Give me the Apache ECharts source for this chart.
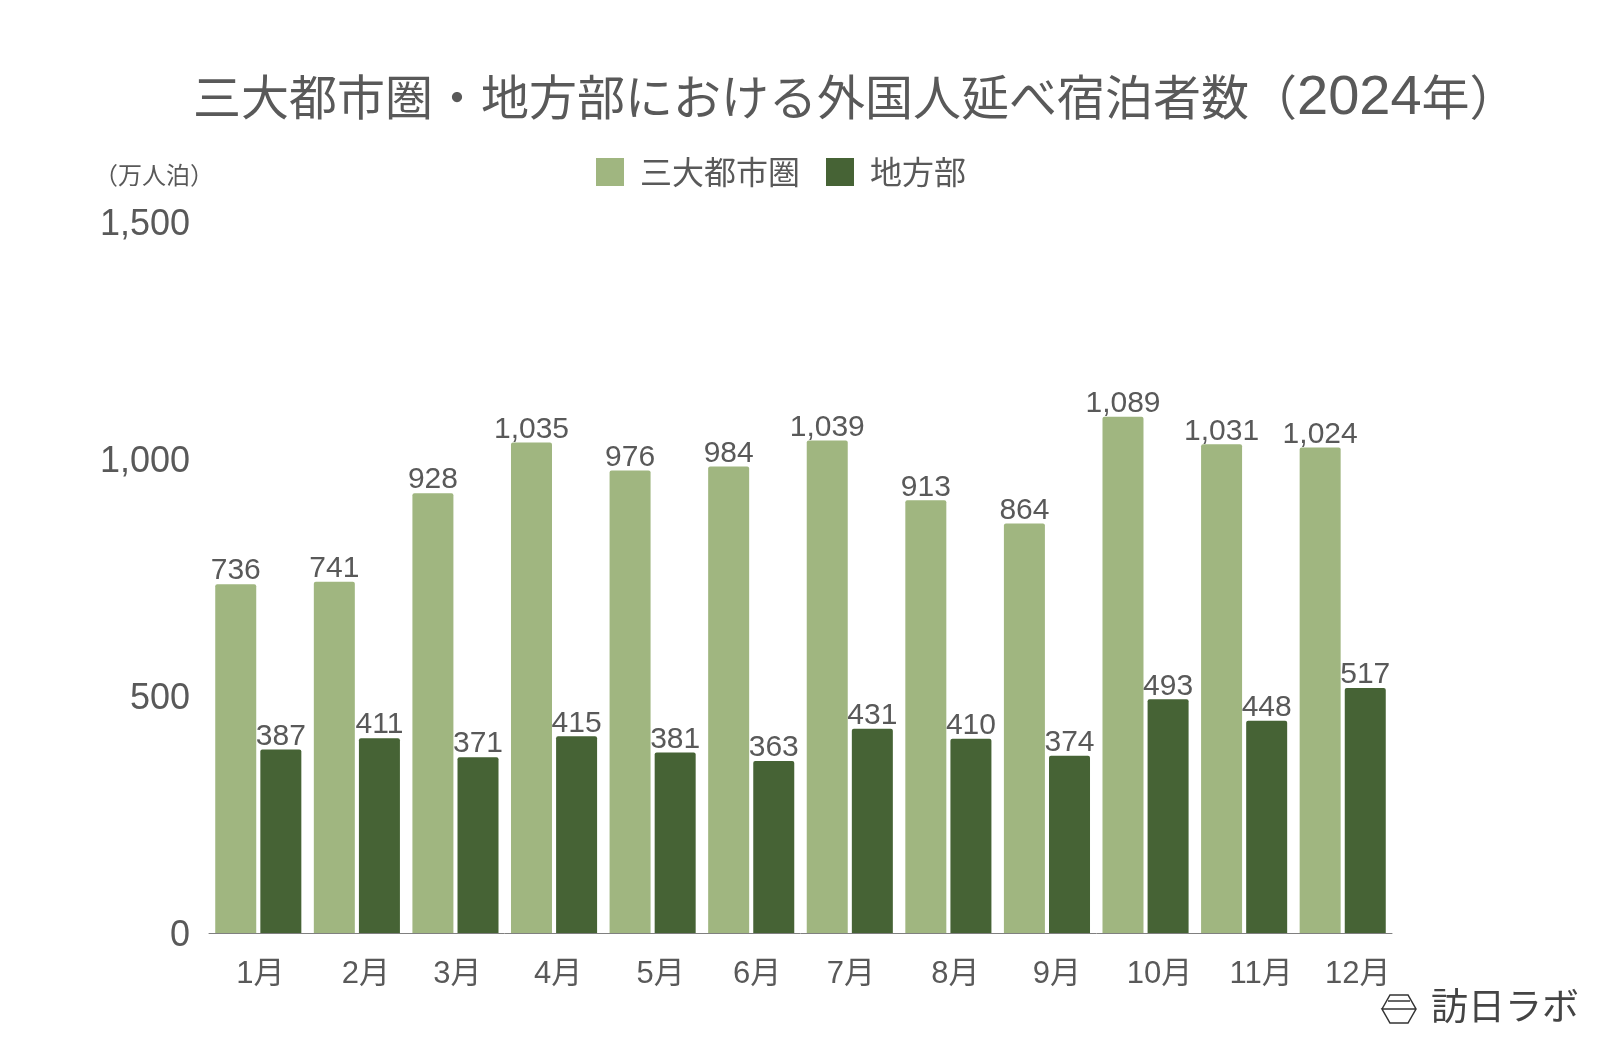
<!DOCTYPE html>
<html>
<head>
<meta charset="utf-8">
<style>
html,body{margin:0;padding:0;background:#fff;}
#chart{width:1600px;height:1048px;}
</style>
<script src="https://cdn.jsdelivr.net/npm/echarts@6/dist/echarts.min.js"></script>
</head>
<body>
<div id="chart"></div>
<script>
var categories=['1月','2月','3月','4月','5月','6月','7月','8月','9月','10月','11月','12月'];
var metroValues=[736,741,928,1035,976,984,1039,913,864,1089,1031,1024];
var regionalValues=[387,411,371,415,381,363,431,410,374,493,448,517];
// x labels in the original do not sit exactly under the bars
var labelShift=[2,9,2,4,8,6,1,7,10,14,17,15];

var fontCjk='"Noto Sans CJK JP"';
var fontNum='"Liberation Sans","Noto Sans CJK JP"';
var textColor='#595959';

var chart=echarts.init(document.getElementById('chart'));

function barSeries(name,values,color){
    return {
        name:name,
        type:'bar',
        data:values,
        barWidth:41,
        barGap:'10%',
        itemStyle:{color:color,borderRadius:[2,2,0,0]},
        label:{
            show:true,
            position:'top',
            distance:-2,
            color:textColor,
            fontFamily:fontNum,
            fontSize:30,
            formatter:function(p){return p.value.toLocaleString('en-US');}
        }
    };
}

var option={
    animation:false,
    backgroundColor:'#fff',
    title:{
        text:'{cjk|三大都市圏・地方部における外国人延べ宿泊者数（}{num|2024}{cjk|年）}',
        left:188,
        top:62,
        textStyle:{
            rich:{
                cjk:{color:textColor,fontFamily:fontCjk,fontSize:48,fontWeight:400},
                num:{color:textColor,fontFamily:fontNum,fontSize:56,fontWeight:400,padding:[4,0,0,0]}
            }
        }
    },
    legend:{
        left:591,
        top:151,
        itemWidth:28,
        itemHeight:28,
        itemGap:26,
        icon:'rect',
        textStyle:{color:textColor,fontFamily:fontCjk,fontSize:32,padding:[0,0,0,11]},
        data:['三大都市圏','地方部']
    },
    grid:{left:209,top:222,width:1183,height:711},
    xAxis:{
        type:'category',
        data:categories.map(function(c,i){
            return {value:c,textStyle:{padding:[0,0,0,labelShift[i]*2]}};
        }),
        axisLine:{lineStyle:{color:'#808080',width:1}},
        axisTick:{show:false},
        axisLabel:{color:textColor,fontFamily:fontNum,fontSize:31,margin:26,interval:0}
    },
    yAxis:{
        type:'value',
        min:0,
        max:1500,
        interval:500,
        axisLine:{show:false},
        axisTick:{show:false},
        splitLine:{show:false},
        axisLabel:{
            margin:19,
            rich:{
                v:{color:textColor,fontFamily:fontNum,fontSize:36,padding:[6,0,0,0]}
            },
            formatter:function(v){return '{v|'+v.toLocaleString('en-US')+'}';}
        }
    },
    series:[
        barSeries('三大都市圏',metroValues,'#A0B680'),
        barSeries('地方部',regionalValues,'#466335')
    ],
    graphic:[
        {
            type:'text',
            left:94,
            top:163,
            style:{text:'（万人泊）',fill:textColor,font:'24px '+fontCjk}
        },
        // 訪日ラボ logo mark
        {
            type:'polyline',
            shape:{points:[[1382,1009],[1390,995],[1408,995],[1416,1009],[1408,1023],[1390,1023],[1382,1009],[1416,1009]]},
            style:{fill:null,stroke:'#333',lineWidth:1.5}
        },
        {
            type:'line',
            shape:{x1:1388,y1:1001,x2:1410,y2:1001},
            style:{stroke:'#333',lineWidth:1.5}
        },
        {
            type:'text',
            left:1431,
            top:987,
            style:{text:'訪日ラボ',fill:'#444',font:'37px '+fontCjk}
        }
    ]
};
chart.setOption(option);
</script>
</body>
</html>
